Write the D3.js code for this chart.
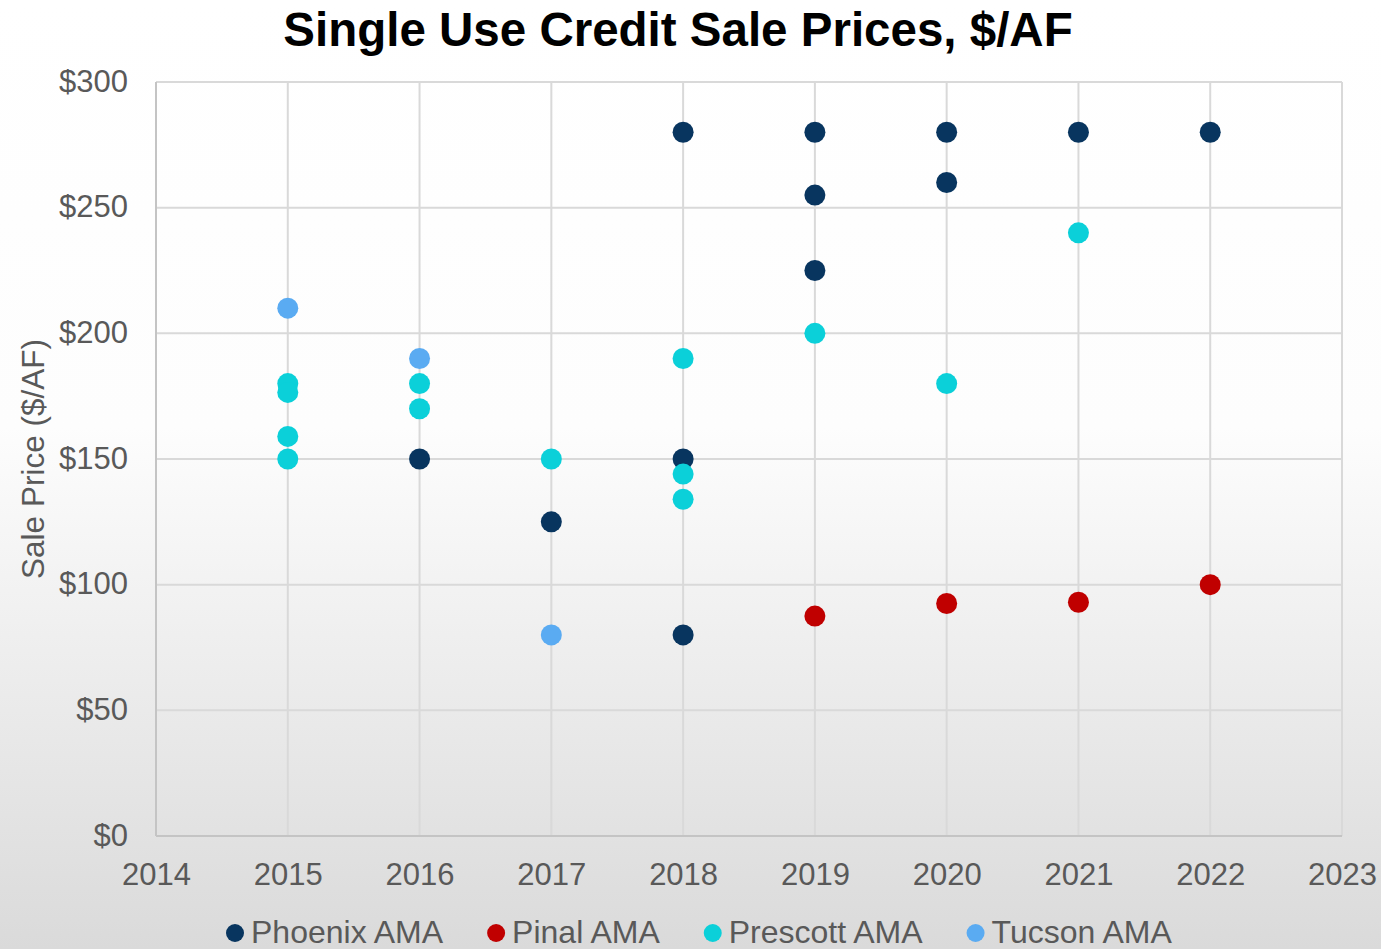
<!DOCTYPE html>
<html>
<head>
<meta charset="utf-8">
<script src="https://cdn.jsdelivr.net/npm/d3@7"></script>
<style>
    html, body { margin: 0; padding: 0; }
    body { width: 1381px; height: 949px; overflow: hidden; }
    svg { display: block; font-family: "Liberation Sans", Arial, sans-serif; }
</style>
</head>
<body>
<svg id="chart"></svg>
<script>
'use strict';

var width = 1381, height = 949;

// Series
var series_names = ["Phoenix AMA", "Pinal AMA", "Prescott AMA", "Tucson AMA"];
var series_colors = ["#08355f", "#c00000", "#0bd0d9", "#5aabf2"];

var phoenix_years  = [2016, 2017, 2018, 2018, 2018, 2019, 2019, 2019, 2020, 2020, 2021, 2022];
var phoenix_prices = [150, 125, 280, 150, 80, 280, 255, 225, 280, 260, 280, 280];

var pinal_years  = [2019, 2020, 2021, 2022];
var pinal_prices = [87.5, 92.5, 93, 100];

var prescott_years  = [2015, 2015, 2015, 2015, 2016, 2016, 2017, 2018, 2018, 2018, 2019, 2020, 2021];
var prescott_prices = [180, 176.5, 159, 150, 180, 170, 150, 190, 144, 134, 200, 180, 240];

var tucson_years  = [2015, 2016, 2017];
var tucson_prices = [210, 190, 80];

var x_ticks = [2014, 2015, 2016, 2017, 2018, 2019, 2020, 2021, 2022, 2023];
var y_ticks = [0, 50, 100, 150, 200, 250, 300];

var series_years = [phoenix_years, pinal_years, prescott_years, tucson_years];
var series_prices = [phoenix_prices, pinal_prices, prescott_prices, tucson_prices];

var text_color = "#595959";
var plot = {left: 156, right: 1342, top: 82, bottom: 836};

var svg = d3.select("#chart")
    .attr("width", width)
    .attr("height", height);

// Background: white fading to grey near the bottom
var grad = svg.append("defs").append("linearGradient")
    .attr("id", "bg")
    .attr("x1", 0).attr("y1", 0).attr("x2", 0).attr("y2", 1);
grad.append("stop").attr("offset", "0%").attr("stop-color", "#ffffff");
grad.append("stop").attr("offset", "45%").attr("stop-color", "#fdfdfd");
grad.append("stop").attr("offset", "100%").attr("stop-color", "#dadada");

svg.append("rect")
    .attr("width", width)
    .attr("height", height)
    .attr("fill", "url(#bg)");

var x = d3.scaleLinear().domain([2014, 2023]).range([plot.left, plot.right]);
var y = d3.scaleLinear().domain([0, 300]).range([plot.bottom, plot.top]);

// Gridlines
svg.append("g")
    .attr("class", "grid")
    .selectAll("line.h")
    .data(y_ticks)
    .join("line")
    .attr("x1", plot.left).attr("x2", plot.right)
    .attr("y1", d => y(d)).attr("y2", d => y(d))
    .attr("stroke", "#d9d9d9")
    .attr("stroke-width", 2);

svg.append("g")
    .attr("class", "grid")
    .selectAll("line.v")
    .data(x_ticks)
    .join("line")
    .attr("x1", d => x(d)).attr("x2", d => x(d))
    .attr("y1", plot.top).attr("y2", plot.bottom)
    .attr("stroke", "#d9d9d9")
    .attr("stroke-width", 2);

// Axis lines (left and bottom a bit darker)
svg.append("line")
    .attr("x1", plot.left).attr("x2", plot.left)
    .attr("y1", plot.top).attr("y2", plot.bottom)
    .attr("stroke", "#c4c4c4").attr("stroke-width", 2);
svg.append("line")
    .attr("x1", plot.left).attr("x2", plot.right)
    .attr("y1", plot.bottom).attr("y2", plot.bottom)
    .attr("stroke", "#c4c4c4").attr("stroke-width", 2);

// Axes (labels only)
var x_axis = svg.append("g")
    .attr("transform", "translate(0," + plot.bottom + ")")
    .call(d3.axisBottom(x).tickValues(x_ticks).tickFormat(d3.format("d")).tickSize(0));
x_axis.select(".domain").remove();
x_axis.selectAll("text")
    .attr("y", 49).attr("dy", 0)
    .attr("fill", text_color)
    .style("font-size", "31px")
    .style("font-family", "'Liberation Sans', Arial, sans-serif");

var y_axis = svg.append("g")
    .attr("transform", "translate(" + plot.left + ",0)")
    .call(d3.axisLeft(y).tickValues(y_ticks).tickFormat(d => "$" + d).tickSize(0));
y_axis.select(".domain").remove();
y_axis.selectAll("text")
    .attr("x", -28).attr("dy", "0.3em")
    .attr("fill", text_color)
    .style("font-size", "31px")
    .style("font-family", "'Liberation Sans', Arial, sans-serif");

// Axis title
svg.append("text")
    .attr("transform", "translate(44," + ((plot.top + plot.bottom) / 2) + ") rotate(-90)")
    .attr("text-anchor", "middle")
    .attr("fill", text_color)
    .style("font-size", "31.5px")
    .text("Sale Price ($/AF)");

// Chart title
svg.append("text")
    .attr("x", 678)
    .attr("y", 46)
    .attr("text-anchor", "middle")
    .attr("fill", "#000000")
    .style("font-size", "47.5px")
    .style("font-weight", "bold")
    .text("Single Use Credit Sale Prices, $/AF");

// Points, series drawn in order so later ones sit on top
for (var s = 0; s < series_names.length; s++) {
    var pts = series_years[s].map((yr, i) => ({year: yr, price: series_prices[s][i]}));
    svg.append("g")
        .attr("class", "series")
        .selectAll("circle")
        .data(pts)
        .join("circle")
        .attr("cx", d => x(d.year))
        .attr("cy", d => y(d.price))
        .attr("r", 10.5)
        .attr("fill", series_colors[s]);
}

// Legend
var legend = svg.append("g").attr("class", "legend");
var lx = 235;
for (var k = 0; k < series_names.length; k++) {
    legend.append("circle")
        .attr("cx", lx)
        .attr("cy", 933)
        .attr("r", 9)
        .attr("fill", series_colors[k]);
    var t = legend.append("text")
        .attr("x", lx + 16)
        .attr("y", 943)
        .attr("fill", text_color)
        .style("font-size", "32px")
        .text(series_names[k]);
    lx = lx + 16 + t.node().getComputedTextLength() + 53;
}
</script>
</body>
</html>
